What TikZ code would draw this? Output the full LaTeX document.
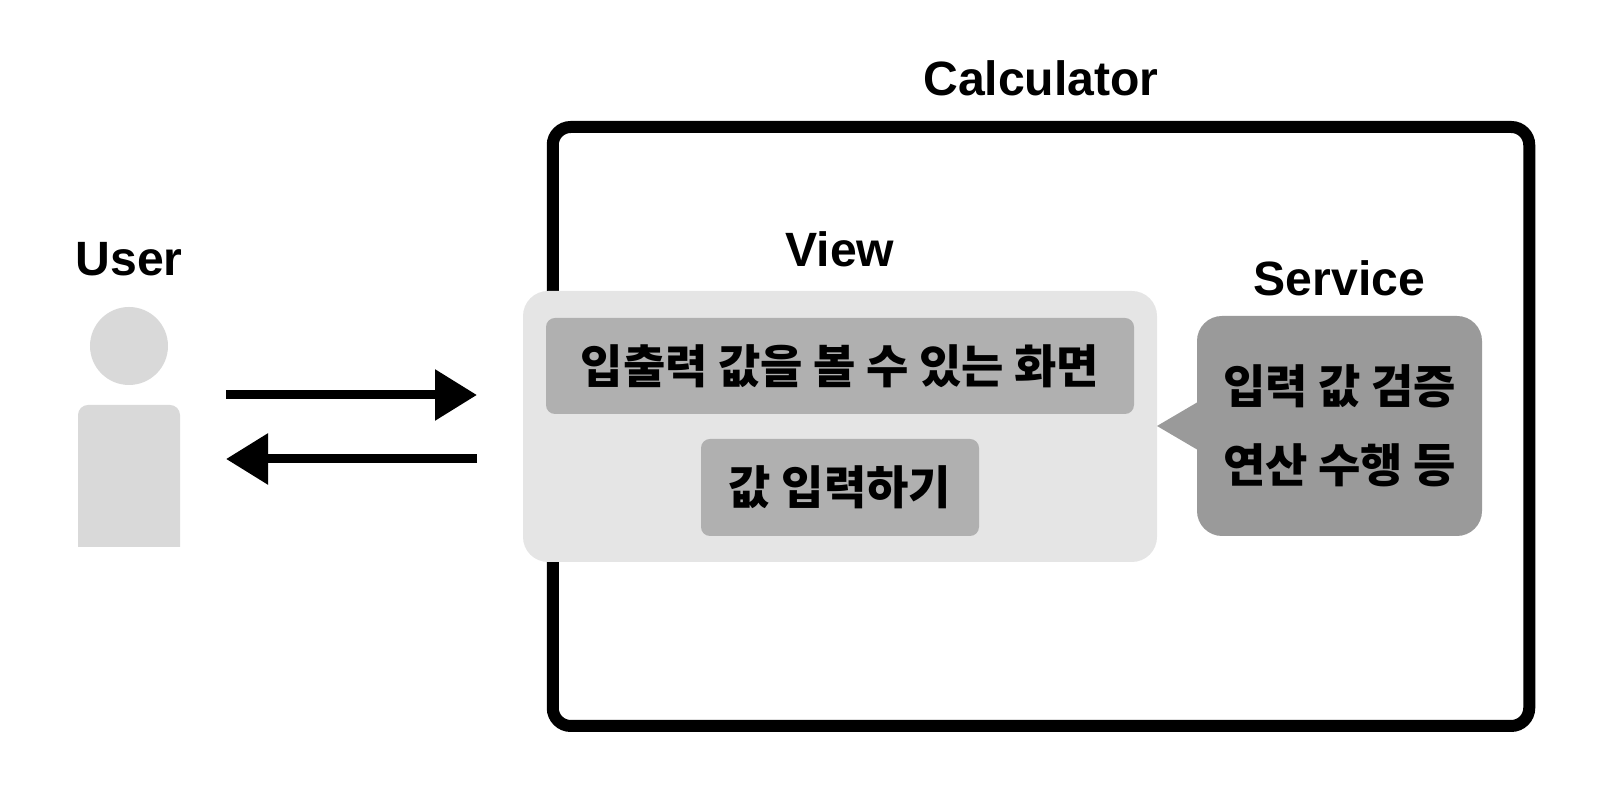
\documentclass[tikz,border=0pt]{standalone}
\usepackage{fontspec}
\setmainfont{Liberation Sans}
\newfontfamily\cjk{Noto Sans CJK KR}
\usetikzlibrary{arrows.meta,positioning,calc}
\definecolor{cUser}{HTML}{D9D9D9}
\definecolor{cView}{HTML}{E5E5E5}
\definecolor{cInner}{HTML}{B0B0B0}
\definecolor{cService}{HTML}{9A9A9A}
\newcommand{\lift}[1]{\raisebox{0.015cm}{#1}}
\tikzset{
  title/.style={anchor=base, font=\fontsize{13.7}{16}\selectfont\bfseries},
  panel/.style={rectangle, outer sep=0pt, inner sep=0pt, align=center,
    font=\fontsize{13.1}{22.6}\selectfont\bfseries\cjk},
  flow/.style={-{Triangle[length=0.42cm,width=0.49cm]}, line width=0.09cm},
}
\begin{document}
\begin{tikzpicture}
\useasboundingbox (0,0) rectangle (16.21,8);
\node[rectangle, draw, line width=0.12cm, rounded corners=0.18cm, outer sep=0pt,
  minimum width=9.765cm, minimum height=5.99cm] (calcFrame) at (10.41,3.735) {};
\node[title] (calcTitle) at (10.41,7.04) {Calculator};
% user
\node[title] (userTitle) at (1.29,5.24) {User};
\node[circle, fill=cUser, minimum size=0.78cm, inner sep=0pt] (userHead) at (1.29,4.54) {};
\fill[cUser] (0.78,2.53) [rounded corners=0.1cm] -- (0.78,3.95) -- (1.80,3.95) [sharp corners] -- (1.80,2.53) -- cycle;
\coordinate (userOut) at (2.26,4.05);
\coordinate (viewIn) at (4.77,4.05);
\coordinate (viewOut) at (4.77,3.41);
\coordinate (userIn) at (2.26,3.41);
\draw[flow] (userOut) -- (viewIn);
\draw[flow] (viewOut) -- (userIn);
% view
\node[panel, fill=cView, rounded corners=0.25cm, minimum width=6.34cm, minimum height=2.71cm] (viewBox) at (8.40,3.735) {};
\node[title] (viewTitle) at (8.40,5.33) {View};
\node[panel, fill=cInner, rounded corners=0.09cm, minimum width=5.88cm, minimum height=0.96cm] (screenBox) at (8.40,4.34) {\lift{입출력 값을 볼 수 있는 화면}};
\node[panel, fill=cInner, rounded corners=0.09cm, minimum width=2.78cm, minimum height=0.97cm] (inputBox) at (8.40,3.125) {\lift{값 입력하기}};
% service
\node[panel, fill=cService, rounded corners=0.25cm, minimum width=2.85cm, minimum height=2.20cm] (serviceBox) at (13.395,3.74) {\lift{입력 값 검증}\\\lift{연산 수행 등}};
\node[title] (serviceTitle) at (13.395,5.04) {Service};
\fill[cService] ($(serviceBox.west)+(0,0.235)$) -- (viewBox.east |- serviceBox.west) -- ($(serviceBox.west)+(0,-0.235)$) -- cycle;
\end{tikzpicture}
\end{document}
